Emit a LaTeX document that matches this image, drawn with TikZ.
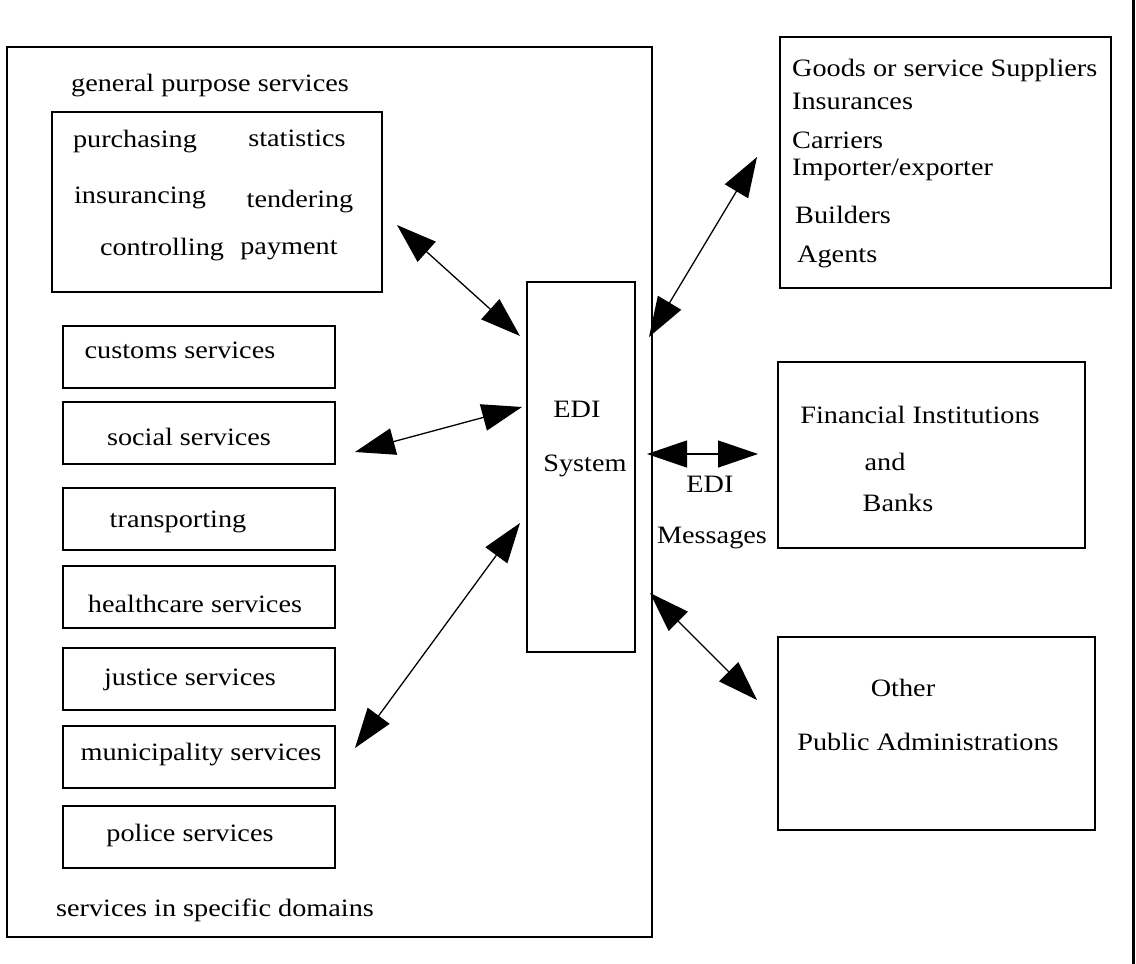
\documentclass[tikz,border=0pt]{standalone}
\usepackage{fontspec}
\setmainfont{Liberation Serif}[FakeStretch=1.13]
\usetikzlibrary{arrows.meta}
\begin{document}
\begin{tikzpicture}[x=1pt,y=-1pt,
  box/.style={draw,line width=1.6pt,inner sep=0pt,outer sep=0pt},
  lbl/.style={inner sep=0pt,font=\fontsize{25}{29}\selectfont},
  link/.style={line width=1.3pt,{Triangle[length=40pt,width=27pt]}-{Triangle[length=40pt,width=27pt]}}]
\useasboundingbox[fill=white] (0,0) rectangle (1136,964);
% outer frame edge on the right
\draw[line width=3pt] (1133,0) -- (1133,964);
% big left box
\node[box,minimum width=645pt,minimum height=890pt] (left) at (329.5,492) {};
\node[lbl] (gps) at (210,86) {general purpose services};
\node[box,minimum width=330pt,minimum height=180pt] (gen) at (217,202) {};
\node[lbl] (purch) at (135,142) {purchasing};
\node[lbl] (stat) at (297,138) {statistics};
\node[lbl] (insur) at (140,198) {insurancing};
\node[lbl] (tend) at (300,202) {tendering};
\node[lbl] (ctrl) at (162,250) {controlling};
\node[lbl] (pay) at (289,250) {payment};
% specific domain boxes
\node[box,minimum width=272pt,minimum height=62pt] (customs) at (199,357) {};
\node[lbl] (customst) at (180,350) {customs services};
\node[box,minimum width=272pt,minimum height=62pt] (social) at (199,433) {};
\node[lbl] (socialt) at (189,437) {social services};
\node[box,minimum width=272pt,minimum height=62pt] (transp) at (199,519) {};
\node[lbl] (transpt) at (178,522) {transporting};
\node[box,minimum width=272pt,minimum height=62pt] (health) at (199,597) {};
\node[lbl] (healtht) at (195,604) {healthcare services};
\node[box,minimum width=272pt,minimum height=62pt] (justice) at (199,679) {};
\node[lbl] (justicet) at (190,680) {justice services};
\node[box,minimum width=272pt,minimum height=62pt] (munic) at (199,757) {};
\node[lbl] (munict) at (201,755) {municipality services};
\node[box,minimum width=272pt,minimum height=62pt] (police) at (199,837) {};
\node[lbl] (policet) at (190,835) {police services};
\node[lbl] (ssd) at (215,910) {services in specific domains};
% EDI system
\node[box,minimum width=108pt,minimum height=370pt] (edi) at (581,467) {};
\node[lbl] (edit) at (577,409) {EDI};
\node[lbl] (sys) at (585,466) {System};
% right boxes
\node[box,minimum width=331pt,minimum height=251pt] (supp) at (945.5,162.5) {};
\node[lbl,anchor=west] (s1) at (792,70) {Goods or service Suppliers};
\node[lbl,anchor=west] (s2) at (792,101) {Insurances};
\node[lbl,anchor=west] (s3) at (792,140) {Carriers};
\node[lbl,anchor=west] (s4) at (792,170) {Importer/exporter};
\node[lbl,anchor=west] (s5) at (795,215) {Builders};
\node[lbl,anchor=west] (s6) at (797,257) {Agents};
\node[box,minimum width=307pt,minimum height=186pt] (fin) at (931.5,455) {};
\node[lbl] (f1t) at (920,415) {Financial Institutions};
\node[lbl] (f2t) at (885,462) {and};
\node[lbl] (f3t) at (898,503) {Banks};
\node[box,minimum width=317pt,minimum height=193pt] (other) at (936.5,733.5) {};
\node[lbl] (o1) at (903,688) {Other};
\node[lbl] (o2) at (928,742) {Public Administrations};
% EDI Messages label
\node[lbl] (msg1) at (710,484) {EDI};
\node[lbl] (msg2) at (712,538) {Messages};
% connector end points
\coordinate (a1) at (397,225); \coordinate (a2) at (520,336);
\coordinate (b1) at (355,452); \coordinate (b2) at (522,407);
\coordinate (c1) at (355,748); \coordinate (c2) at (520,523);
\coordinate (d1) at (649,337); \coordinate (d2) at (757,157);
\coordinate (e1) at (647,454); \coordinate (e2) at (758,454);
\coordinate (f1) at (650,593); \coordinate (f2) at (757,700);
\draw[link] (a1) -- (a2);
\draw[link] (b1) -- (b2);
\draw[link] (c1) -- (c2);
\draw[link] (d1) -- (d2);
\draw[link] (e1) -- (e2);
\draw[link] (f1) -- (f2);
\end{tikzpicture}
\end{document}
